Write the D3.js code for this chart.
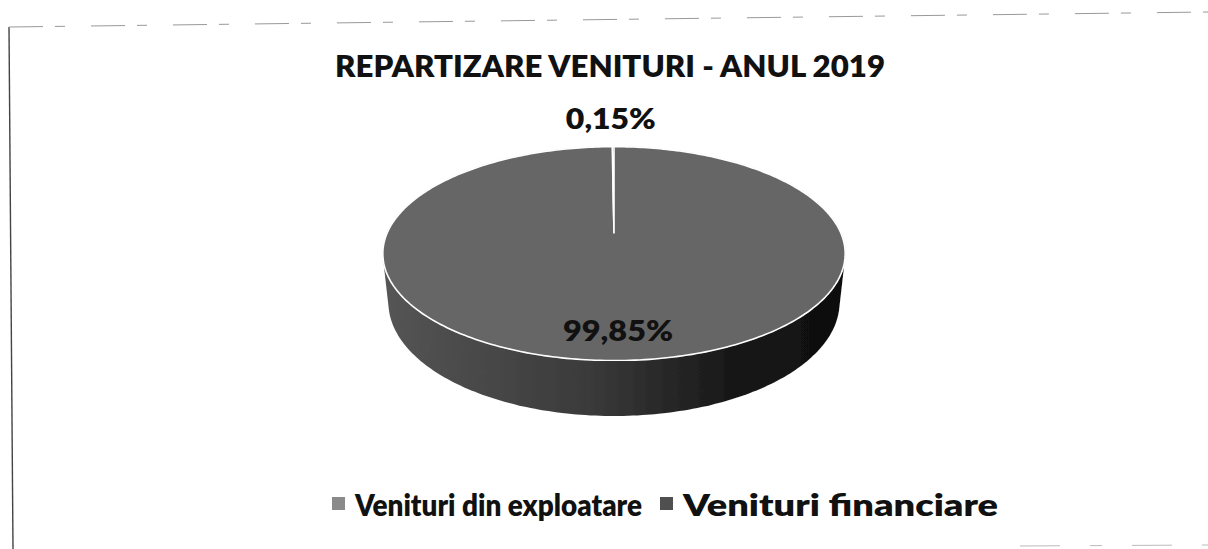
<!DOCTYPE html>
<html>
<head>
<meta charset="utf-8">
<script src="https://cdn.jsdelivr.net/npm/d3@7"></script>
<style>
  html, body { margin: 0; padding: 0; background: #ffffff; }
  svg { display: block; }
  text { font-family: Lato, "Open Sans", "Noto Sans", sans-serif; font-weight: 800; fill: #111; }
</style>
</head>
<body>
<svg id="chart" width="1208" height="549"></svg>
<script>
// ---- data ----
const title = "REPARTIZARE VENITURI - ANUL 2019";
const categories = ["Venituri din exploatare", "Venituri financiare"];
const values = [99.85, 0.15];
const valueLabels = ["99,85%", "0,15%"];
const sliceColors = ["#666666", "#4a4a4a"];
const legendColors = ["#8a8a8a", "#505050"];

const W = 1208, H = 549;
const svg = d3.select("#chart");

// ---- frame (scanned page border) ----
svg.append("line").attr("x1", 9).attr("y1", 27).attr("x2", 13).attr("y2", 549)
  .attr("stroke", "#444").attr("stroke-width", 1.4);
svg.append("line").attr("x1", 9).attr("y1", 27).attr("x2", 1208).attr("y2", 12)
  .attr("stroke", "#999").attr("stroke-width", 1).attr("stroke-dasharray", "34,12,10,26");
svg.append("line").attr("x1", 1020).attr("y1", 546).attr("x2", 1208).attr("y2", 545)
  .attr("stroke", "#bbb").attr("stroke-width", 1).attr("stroke-dasharray", "40,30,12,30");

// ---- defs ----
const defs = svg.append("defs");
const grad = defs.append("linearGradient").attr("id", "sideGrad")
  .attr("x1", "0%").attr("x2", "100%").attr("y1", "0%").attr("y2", "0%");
grad.append("stop").attr("offset", "0%").attr("stop-color", "#555555");
grad.append("stop").attr("offset", "45%").attr("stop-color", "#3a3a3a");
grad.append("stop").attr("offset", "75%").attr("stop-color", "#181818");
grad.append("stop").attr("offset", "100%").attr("stop-color", "#0e0e0e");

const flt = defs.append("filter").attr("id", "grain").attr("x", 0).attr("y", 0).attr("width", "100%").attr("height", "100%");
flt.append("feTurbulence").attr("type", "fractalNoise").attr("baseFrequency", 0.9).attr("numOctaves", 1).attr("seed", 3).attr("result", "noise");
flt.append("feColorMatrix").attr("in", "noise").attr("type", "matrix")
  .attr("values", "0 0 0 0 0.5  0 0 0 0 0.5  0 0 0 0 0.5  0 0 0 1.6 -0.55").attr("result", "n2");
flt.append("feComposite").attr("in", "n2").attr("in2", "SourceGraphic").attr("operator", "in").attr("result", "n3");
flt.append("feBlend").attr("in", "n3").attr("in2", "SourceGraphic").attr("mode", "overlay");

// ---- 3D perspective projection of the pie disc ----
const cx = 614, cy = 233;           // projected pie centre
const F = 1048, D = 4.62;           // focal scale, camera distance (unit radius)
const elev = Math.asin(0.454);      // camera elevation
const sE = Math.sin(elev), cE = Math.cos(elev);
const depthH = 0.243;               // pie thickness (unit radius)

function project(r, a, y) {
  // a: pie angle (0 = back/12 o'clock, clockwise); y: height (0 top, negative below)
  const X = r * Math.sin(a), Z = -r * Math.cos(a), Y = y;
  const dep = D - Y * sE - Z * cE;
  return [cx + F * X / dep, cy - F * (Y * cE - Z * sE) / dep];
}

const pie = d3.pie().sort(null).value(d => d)(values);
const N = 360;

// side wall (silhouette of the cylinder under the top face)
const ring = d3.range(N).map(i => 2 * Math.PI * i / N);
const hullPts = d3.polygonHull(ring.map(a => project(1, a, 0)).concat(ring.map(a => project(1, a, -depthH))));
svg.append("path")
  .attr("d", d3.line()(hullPts) + "Z")
  .attr("fill", "url(#sideGrad)")
  .attr("filter", "url(#grain)");

// top faces
function slicePath(d) {
  const steps = Math.max(2, Math.ceil((d.endAngle - d.startAngle) / (2 * Math.PI) * N));
  const pts = [project(0, 0, 0)];
  for (let i = 0; i <= steps; i++) {
    pts.push(project(1, d.startAngle + (d.endAngle - d.startAngle) * i / steps, 0));
  }
  return d3.line()(pts) + "Z";
}
svg.append("g").selectAll("path").data(pie).join("path")
  .attr("d", slicePath)
  .attr("fill", (d, i) => sliceColors[i])
  .attr("stroke", "#ffffff")
  .attr("stroke-width", 1.6)
  .attr("stroke-linejoin", "round")
  .attr("filter", "url(#grain)");

// ---- title ----
svg.append("text")
  .attr("x", W / 2 + 6).attr("y", 77)
  .attr("text-anchor", "middle")
  .attr("font-size", 31)
  .attr("textLength", 550).attr("lengthAdjust", "spacingAndGlyphs")
  .text(title);

// ---- data labels ----
const labelR = [0.8, 1.36];
const labelLen = [110, 90];
const labelDy = [0, -3];
svg.append("g").selectAll("text").data(pie).join("text")
  .attr("x", (d, i) => project(labelR[i], (d.startAngle + d.endAngle) / 2, 0)[0] + (i === 0 ? 3 : -2))
  .attr("y", (d, i) => project(labelR[i], (d.startAngle + d.endAngle) / 2, 0)[1] + labelDy[i])
  .attr("dy", "0.36em")
  .attr("text-anchor", "middle")
  .attr("font-size", 29)
  .attr("textLength", (d, i) => labelLen[i]).attr("lengthAdjust", "spacingAndGlyphs")
  .attr("fill", (d, i) => i === 0 ? "#1a1a1a" : "#111")
  .text((d, i) => valueLabels[i]);

// ---- legend ----
const legendX = [332, 660];
const legendTextLen = [287, 315];
const legendFont = [30, 31];
const lg = svg.append("g").selectAll("g").data(categories).join("g")
  .attr("transform", (d, i) => `translate(${legendX[i]},497)`);
lg.append("rect").attr("width", 13).attr("height", 13)
  .attr("fill", (d, i) => legendColors[i]).attr("filter", "url(#grain)");
lg.append("text").attr("x", 23).attr("y", 19)
  .attr("font-size", (d, i) => legendFont[i])
  .attr("font-weight", 700)
  .attr("textLength", (d, i) => legendTextLen[i]).attr("lengthAdjust", "spacingAndGlyphs")
  .text(d => d);
</script>
</body>
</html>
